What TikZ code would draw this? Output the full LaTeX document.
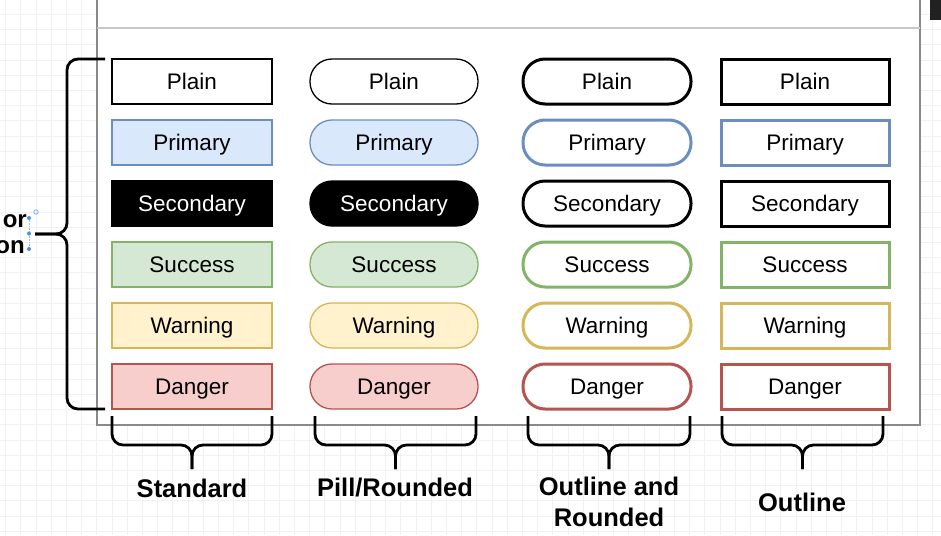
\documentclass[tikz,border=0pt]{standalone}
\usepackage{fontspec}
\setmainfont{Liberation Sans}
\definecolor{gridc}{HTML}{F1F1F1}
\definecolor{panelc}{HTML}{8A8A8A}
\definecolor{sepc}{HTML}{C8C8C8}
\definecolor{prifill}{HTML}{DAE8FC}\definecolor{pridraw}{HTML}{6C8EBF}
\definecolor{sucfill}{HTML}{D5E8D4}\definecolor{sucdraw}{HTML}{82B366}
\definecolor{warfill}{HTML}{FFF2CC}\definecolor{wardraw}{HTML}{D6B656}
\definecolor{danfill}{HTML}{F8CECC}\definecolor{dandraw}{HTML}{B85450}
\definecolor{handlec}{HTML}{4A90E2}
\begin{document}
\begin{tikzpicture}[x=1pt,y=-1pt,
  btn/.style={minimum height=45pt, inner sep=0pt, text height=16pt, text depth=0pt, font=\fontsize{22.5}{25}\selectfont},
  stdbtn/.style={btn, rectangle, minimum width=160pt, line width=1.3pt},
  pillbtn/.style={btn, rectangle, rounded corners=22pt, minimum width=168pt, line width=1.3pt},
  orndbtn/.style={btn, rectangle, rounded corners=22pt, minimum width=168pt, line width=3pt},
  ostdbtn/.style={btn, rectangle, minimum width=168pt, line width=3pt},
  plainst/.style={draw=black, fill=white},
  primst/.style={draw=pridraw, fill=prifill},
  secst/.style={draw=black, fill=black, text=white},
  succst/.style={draw=sucdraw, fill=sucfill},
  warnst/.style={draw=wardraw, fill=warfill},
  dangst/.style={draw=dandraw, fill=danfill},
  oplain/.style={draw=black, fill=white},
  oprim/.style={draw=pridraw, fill=white},
  osec/.style={draw=black, fill=white},
  osucc/.style={draw=sucdraw, fill=white},
  owarn/.style={draw=wardraw, fill=white},
  odang/.style={draw=dandraw, fill=white},
  bracest/.style={line width=2.8pt, rounded corners=11pt},
  lbl/.style={font=\fontsize{25.5}{31}\selectfont\bfseries, align=center, inner sep=0pt}
]
\useasboundingbox (0,0) rectangle (941,535);
% grid background
\begin{scope}
\clip (0,0) rectangle (941,535);
\foreach \i in {0,...,62} {\draw[gridc, line width=0.8pt] (5.5+15.2*\i,0) -- (5.5+15.2*\i,535);}
\foreach \j in {0,...,35} {\draw[gridc, line width=0.8pt] (0,14.4+15.2*\j) -- (941,14.4+15.2*\j);}
\end{scope}
% panel
\fill[white] (97,-2) rectangle (920,425);
\draw[panelc, line width=1.5pt] (97,-2) -- (97,425) -- (920,425) -- (920,-2);
\draw[sepc, line width=1.5pt] (97,28) -- (920,28);
\fill[black!87] (930,0) rectangle (941,20);

% buttons
\foreach \n/\t/\y [count=\k] in {plain/Plain/81.5, prim/Primary/142.5, sec/Secondary/203.5, succ/Success/264.5, warn/Warning/325.5, dang/Danger/386.5} {
  \node[stdbtn, \n st] (s\k) at (192,\y) {\t};
  \node[pillbtn, \n st] (p\k) at (394,\y) {\t};
  \node[orndbtn, o\n] (r\k) at (607,\y) {\t};
  \node[ostdbtn, o\n] (o\k) at (805,\y) {\t};
}

% left brace
\coordinate (lbt) at (105,59);
\coordinate (lbb) at (105,409);
\coordinate (lbtip) at (35,234);
\draw[bracest] (lbt) -- (67,59) -- (67,234) -- (lbtip);
\draw[bracest] (lbb) -- (67,409) -- (67,234) -- (lbtip);
\node[anchor=base east, inner sep=0pt, font=\fontsize{24}{28}\selectfont\bfseries] (lor) at (27,227) {or};
\node[anchor=base east, inner sep=0pt, font=\fontsize{24}{28}\selectfont\bfseries] (lon) at (25,253) {on};
% selection handles
\draw[handlec!60, densely dotted, line width=0.6pt] (29,218) -- (29,249);
\fill[handlec] (29,218) circle (2pt) (29,233.5) circle (2pt) (29,249) circle (2pt);
\draw[handlec!80, line width=0.7pt] (36,212) circle (2.2pt);

% bottom braces and labels
\foreach \l/\r/\name in {112/272/a, 315/476/b, 528/690/c, 722/883/d} {
  \coordinate (bt\name) at ({(\l+\r)/2},469);
  \draw[bracest] (\l,416) -- (\l,445) -- ({(\l+\r)/2},445) -- (bt\name);
  \draw[bracest] (\r,416) -- (\r,445) -- ({(\l+\r)/2},445) -- (bt\name);
}
\node[lbl] (la) at (192,488) {Standard};
\node[lbl] (lb) at (395,488) {Pill/Rounded};
\node[lbl] (lc) at (609,501.5) {Outline and\\Rounded};
\node[lbl] (ld) at (802,502) {Outline};
\end{tikzpicture}
\end{document}
